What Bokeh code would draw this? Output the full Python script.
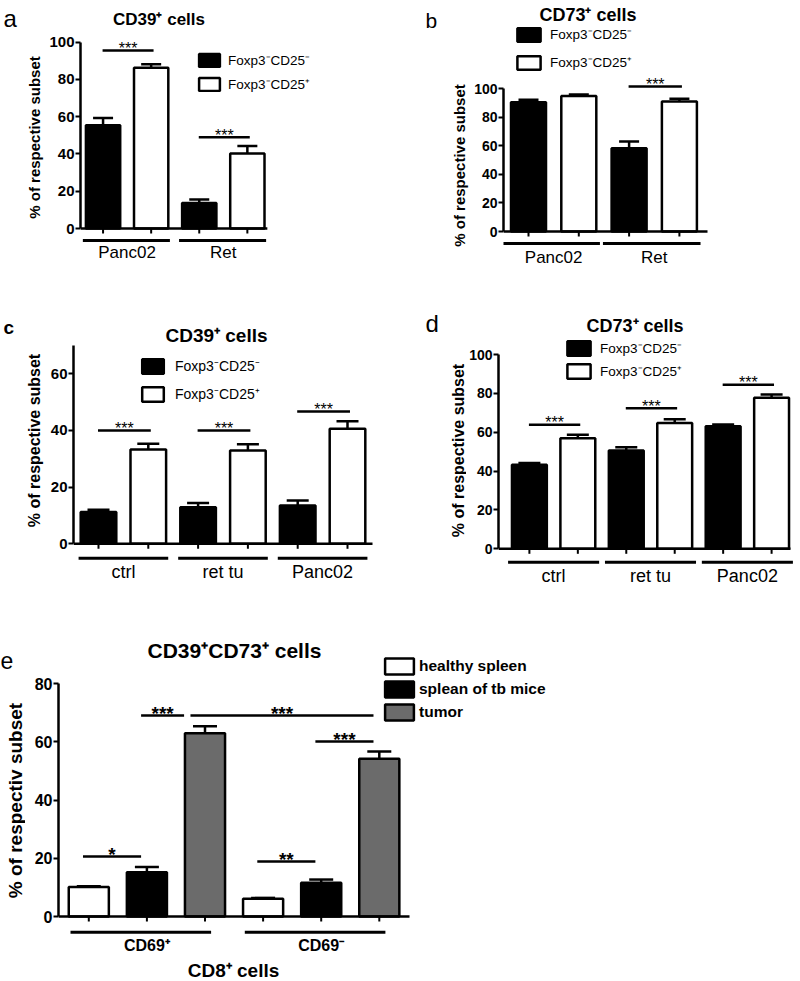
import math
from bokeh.plotting import figure
from bokeh.models import (Range1d, FixedTicker, Whisker, TeeHead, ColumnDataSource,
                          Legend, LegendItem, Label)
from bokeh.layouts import column, row
from bokeh.core.properties import value
from bokeh.embed import file_html
from bokeh.resources import INLINE

FONT = "Liberation Sans"

# ---------------- data ----------------
treg_series = ["Foxp3\u207bCD25\u207b", "Foxp3\u207bCD25\u207a"]

# panel a: CD39+ cells
a_groups = ["Panc02", "Ret"]
a_neg = [55.4, 13.7]
a_neg_err = [3.9, 1.8]
a_pos = [86.3, 40.2]
a_pos_err = [1.9, 4.1]
a_sig_pairs = [(0, 1), (2, 3)]
a_sig_levels = [95.5, 49.0]
a_sig_text = ["***", "***"]
a_yticks = [0, 20, 40, 60, 80, 100]

# panel b: CD73+ cells
b_groups = ["Panc02", "Ret"]
b_neg = [90.6, 58.4]
b_neg_err = [1.7, 4.6]
b_pos = [94.9, 91.1]
b_pos_err = [1.1, 1.9]
b_sig_pairs = [(2, 3)]
b_sig_levels = [101.6]
b_sig_text = ["***"]
b_yticks = [0, 20, 40, 60, 80, 100]

# panel c: CD39+ cells
c_groups = ["ctrl", "ret tu", "Panc02"]
c_neg = [11.2, 12.9, 13.5]
c_neg_err = [0.8, 1.5, 1.8]
c_pos = [33.3, 32.9, 40.6]
c_pos_err = [2.0, 2.2, 2.7]
c_sig_pairs = [(0, 1), (2, 3), (4, 5)]
c_sig_levels = [40.0, 40.0, 46.7]
c_sig_text = ["***", "***", "***"]
c_yticks = [0, 20, 40, 60]
c_ymax = 70

# panel d: CD73+ cells
d_groups = ["ctrl", "ret tu", "Panc02"]
d_neg = [43.2, 50.6, 63.1]
d_neg_err = [0.9, 1.7, 0.9]
d_pos = [56.9, 64.7, 77.7]
d_pos_err = [1.8, 2.0, 1.7]
d_sig_pairs = [(0, 1), (2, 3), (4, 5)]
d_sig_levels = [63.8, 72.4, 84.4]
d_sig_text = ["***", "***", "***"]
d_yticks = [0, 20, 40, 60, 80, 100]

# panel e: CD39+CD73+ cells
e_groups = ["CD69\u207a", "CD69\u207b"]
e_series = ["healthy spleen", "splean of tb mice", "tumor"]
e_healthy = [10.1, 6.1]
e_healthy_err = [0.3, 0.3]
e_tb = [15.2, 11.6]
e_tb_err = [1.8, 1.1]
e_tumor = [63.0, 54.2]
e_tumor_err = [2.4, 2.5]
e_sig_pairs = [(0, 1), (3, 4), (1, 2), (2, 5), (4, 5)]
e_sig_levels = [20.6, 18.9, 69.1, 69.1, 60.2]
e_sig_text = ["*", "**", "***", "***", "***"]
e_yticks = [0, 20, 40, 60, 80]


def gutter(W, H, letter, letter_xy, letter_fs, letter_style, ylabel, ylab_xy, ylab_fs):
    """Narrow strip left of a panel: panel letter and rotated y-axis title."""
    p = figure(width=W, height=H, output_backend="svg", toolbar_location=None,
               x_range=Range1d(0, W), y_range=Range1d(0, H), x_axis_type=None,
               y_axis_type=None, min_border=0, title=None)
    p.outline_line_color = None
    lx, ly = letter_xy
    p.text(x=[lx], y=[H - ly], text=[letter], text_align="left", text_baseline="alphabetic",
           text_font=value(FONT), text_font_size=letter_fs, text_font_style=letter_style,
           text_color="black")
    yx, yy = ylab_xy
    p.text(x=[yx], y=[H - yy], text=[ylabel], angle=math.pi / 2, text_align="center",
           text_baseline="middle", text_font=value(FONT), text_font_size=ylab_fs,
           text_font_style="bold", text_color="black")
    return p


def build(groups, names, vals, errs, colors, yticks, ymax, sig_pairs, sig_levels, sig_text,
          title, g):
    ns, ng = len(names), len(groups)
    W, H = g["size"]
    left = g["left"]
    y0, ppu = g["y0"], g["ppu"]
    x0, dx = g["x0"], g["dx"]

    def fx(px):
        return (px - x0) / dx

    def fy(py):
        return (y0 - py) / ppu

    p = figure(width=W, height=H, output_backend="svg", toolbar_location=None, title=None,
               min_border_left=left, min_border_right=0, min_border_top=0,
               min_border_bottom=0,
               x_range=Range1d(fx(left), fx(W)), y_range=Range1d(fy(H), fy(0)))
    p.outline_line_color = None
    p.grid.visible = False
    p.xaxis.visible = False

    ya = p.yaxis[0]
    ya.bounds = (0, ymax)
    ya.ticker = FixedTicker(ticks=yticks)
    ya.axis_line_width = 2.5
    ya.axis_line_color = "black"
    ya.major_tick_line_width = 2
    ya.major_tick_line_color = "black"
    ya.major_tick_out = 5
    ya.major_tick_in = 0
    ya.minor_tick_line_color = None
    ya.major_label_text_font = FONT
    ya.major_label_text_font_style = "bold"
    ya.major_label_text_font_size = g["tick_fs"]
    ya.major_label_text_color = "black"
    ya.major_label_standoff = 1

    bw = g["bw"]
    rends = []
    for s in range(ns):
        xs = [gi * ns + s for gi in range(ng)]
        r = p.vbar(x=xs, top=vals[s], bottom=0, width=bw, fill_color=colors[s],
                   line_color="black", line_width=2.5)
        rends.append(r)
        src = ColumnDataSource(dict(x=xs, lo=vals[s],
                                    hi=[v + e for v, e in zip(vals[s], errs[s])]))
        p.add_layout(Whisker(source=src, base="x", lower="lo", upper="hi",
                             lower_head=None,
                             upper_head=TeeHead(size=g["cap"], line_width=2.5, line_color="black"),
                             line_width=2.5, line_color="black"))

    n = ns * ng
    # x axis line and ticks
    p.segment(x0=[fx(left)], y0=[0], x1=[fx(g["xend"])], y1=[0], line_color="black",
              line_width=2.5)
    xs_all = list(range(n))
    p.segment(x0=xs_all, y0=[0] * n, x1=xs_all, y1=[-5 / ppu] * n, line_color="black",
              line_width=2)
    # group underlines and group names
    ul_l, ul_r = g["ul"]
    uy = -g["ul_px"] / ppu
    p.segment(x0=[gi * ns - ul_l for gi in range(ng)], y0=[uy] * ng,
              x1=[gi * ns + ns - 1 + ul_r for gi in range(ng)], y1=[uy] * ng,
              line_color="black", line_width=3)
    p.text(x=[gi * ns + (ns - 1) / 2 for gi in range(ng)], y=[-g["lab_px"] / ppu] * ng,
           text=groups, text_align="center", text_baseline="middle",
           text_font=value(FONT), text_font_size=g["lab_fs"],
           text_font_style=g["lab_style"], text_color="black")

    # significance brackets
    sl, sr = g["sig_in"]
    spans = [[i0 + sl, i1 + sr] for (i0, i1) in sig_pairs]
    for a in range(len(sig_pairs)):
        for b in range(len(sig_pairs)):
            if a != b and sig_levels[a] == sig_levels[b] and sig_pairs[a][1] == sig_pairs[b][0]:
                spans[a][1] = sig_pairs[a][1] - 0.36
                spans[b][0] = sig_pairs[b][0] - 0.25
    p.segment(x0=[s[0] for s in spans], y0=sig_levels, x1=[s[1] for s in spans],
              y1=sig_levels, line_color="black", line_width=2.5)
    p.text(x=[(s[0] + s[1]) / 2 for s in spans], y=sig_levels, text=sig_text,
           text_align="center", text_baseline="middle", y_offset=g["sig_dy"],
           text_font=value(FONT), text_font_size=g["sig_fs"],
           text_font_style=g["sig_style"], text_color="black")

    # panel title (and extra axis caption)
    tx, ty = g["title_xy"]
    p.add_layout(Label(x=fx(tx), y=fy(ty), text=title, text_align="center",
                       text_baseline="middle", text_font=FONT, text_font_size=g["title_fs"],
                       text_font_style="bold", text_color="black"))
    for (txt, (ex, ey), fs) in g.get("extra", []):
        p.add_layout(Label(x=fx(ex), y=fy(ey), text=txt, text_align="center",
                           text_baseline="middle", text_font=FONT, text_font_size=fs,
                           text_font_style="bold", text_color="black"))

    # legend
    L = g["leg"]
    leg = Legend(items=[LegendItem(label=nm, renderers=[r]) for nm, r in zip(names, rends)],
                 location=L["loc"], orientation="vertical",
                 glyph_width=L["gw"], glyph_height=L["gh"], label_height=L["gh"],
                 spacing=L["sp"], label_standoff=L["so"], padding=0, margin=0,
                 border_line_color=None, background_fill_alpha=0,
                 label_text_font=FONT, label_text_font_size=L["fs"],
                 label_text_font_style=L["style"], label_text_color="black")
    p.add_layout(leg)
    return p


BW = ["black", "white"]
YLAB = "% of respective subset"

ga = dict(size=(354, 280), left=32, y0=228, ppu=1.863, x0=54.7, dx=48.4,
          bw=0.713, xend=220, tick_fs="15px", cap=20,
          ul=(0.42, 0.39), ul_px=12, lab_px=23.5, lab_fs="17px", lab_style="normal",
          sig_in=(-0.01, 0.05), sig_dy=-2, sig_fs="16px", sig_style="normal",
          title_xy=(111, 19), title_fs="17px",
          leg=dict(loc=(116, 187), gw=26, gh=16, sp=6, so=6, fs="13.5px", style="normal"))

gb = dict(size=(329, 280), left=33, y0=231, ppu=1.427, x0=58, dx=50.3,
          bw=0.696, xend=237, tick_fs="14px", cap=20,
          ul=(0.52, 0.42), ul_px=12, lab_px=25.5, lab_fs="17px", lab_style="normal",
          sig_in=(-0.01, 0.05), sig_dy=-2, sig_fs="16px", sig_style="normal",
          title_xy=(117.5, 14), title_fs="18px",
          leg=dict(loc=(11, 209), gw=29, gh=17, sp=10, so=7, fs="13.5px", style="normal"))

gc = dict(size=(356, 310), left=29, y0=263.3, ppu=2.833, x0=54, dx=49.8,
          bw=0.715, xend=328, tick_fs="15px", cap=22,
          ul=(0.4, 0.4), ul_px=14.4, lab_px=28.4, lab_fs="18px", lab_style="normal",
          sig_in=(-0.01, 0.05), sig_dy=-2, sig_fs="16px", sig_style="normal",
          title_xy=(172, 55), title_fs="19px",
          leg=dict(loc=(66, 187), gw=27, gh=18, sp=9, so=9, fs="14px", style="normal"))

gd = dict(size=(333, 310), left=31, y0=268.3, ppu=1.943, x0=62, dx=48.6,
          bw=0.72, xend=324, tick_fs="14px", cap=22,
          ul=(0.44, 0.44), ul_px=13.4, lab_px=26.7, lab_fs="18px", lab_style="normal",
          sig_in=(-0.01, 0.05), sig_dy=-2, sig_fs="16px", sig_style="normal",
          title_xy=(168, 45), title_fs="18px",
          leg=dict(loc=(66, 210), gw=29, gh=18, sp=5, so=7, fs="13.5px", style="normal"))

ge = dict(size=(774, 390), left=33, y0=326, ppu=2.909, x0=63.3, dx=58.1,
          bw=0.69, xend=384, tick_fs="16px", cap=24,
          ul=(0.315, 0.105), ul_px=15.7, lab_px=29, lab_fs="16px", lab_style="bold",
          sig_in=(-0.1, -0.1), sig_dy=-2, sig_fs="19px", sig_style="bold",
          title_xy=(209, 60), title_fs="21px",
          extra=[("CD8\u207a cells", (208, 380), "19px")],
          leg=dict(loc=(323, 258), gw=36, gh=20, sp=3, so=2, fs="15.5px", style="bold"))

pa = build(a_groups, treg_series, [a_neg, a_pos], [a_neg_err, a_pos_err], BW, a_yticks, 100,
           a_sig_pairs, a_sig_levels, a_sig_text, "CD39\u207a cells", ga)
pb = build(b_groups, treg_series, [b_neg, b_pos], [b_neg_err, b_pos_err], BW, b_yticks, 100,
           b_sig_pairs, b_sig_levels, b_sig_text, "CD73\u207a cells", gb)
pc = build(c_groups, treg_series, [c_neg, c_pos], [c_neg_err, c_pos_err], BW, c_yticks, c_ymax,
           c_sig_pairs, c_sig_levels, c_sig_text, "CD39\u207a cells", gc)
pd_ = build(d_groups, treg_series, [d_neg, d_pos], [d_neg_err, d_pos_err], BW, d_yticks, 100,
            d_sig_pairs, d_sig_levels, d_sig_text, "CD73\u207a cells", gd)
pe = build(e_groups, e_series, [e_healthy, e_tb, e_tumor], [e_healthy_err, e_tb_err, e_tumor_err],
           ["white", "black", "#6b6b6b"], e_yticks, 80,
           e_sig_pairs, e_sig_levels, e_sig_text, "CD39\u207aCD73\u207a cells", ge)

sa = gutter(46, 280, "a", (3, 18), "24px", "normal", YLAB, (34, 137), "15px")
sb = gutter(70, 280, "b", (25, 20), "21px", "normal", YLAB, (59, 165), "15px")
sc = gutter(44, 310, "c", (3, 47), "19px", "bold", YLAB, (34, 160), "16px")
sd = gutter(66, 310, "d", (25, 43), "24px", "normal", YLAB, (58, 170), "16px")
se = gutter(25, 390, "e", (0, 70), "23px", "normal", "% of respectiv subset", (15, 210), "19px")

layout = column(row(sa, pa, sb, pb, spacing=0),
                row(sc, pc, sd, pd_, spacing=0),
                row(se, pe, spacing=0), spacing=0)
open("out.html", "w").write(file_html(layout, INLINE))
